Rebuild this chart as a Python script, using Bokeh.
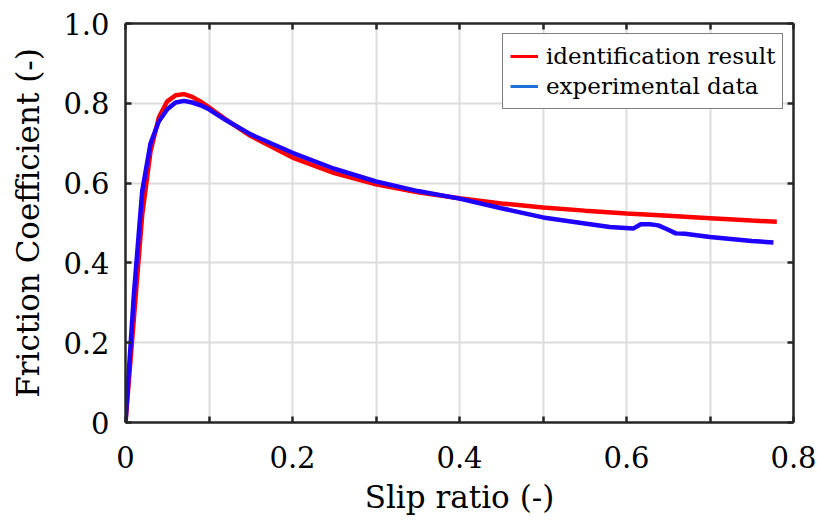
from bokeh.plotting import figure
from bokeh.models import (ColumnDataSource, Legend, LegendItem, LinearAxis, FixedTicker, Range1d)
from bokeh.embed import file_html
from bokeh.resources import INLINE

# identification result (red)
id_x = [0.0, 0.01, 0.02, 0.03, 0.04, 0.05, 0.06, 0.07, 0.08, 0.09, 0.10, 0.12, 0.15, 0.20, 0.25,
        0.30, 0.35, 0.40, 0.45, 0.50, 0.55, 0.60, 0.65, 0.70, 0.75, 0.78]
id_y = [0.0, 0.26, 0.52, 0.68, 0.765, 0.805, 0.82, 0.823, 0.816, 0.804, 0.79, 0.76, 0.718, 0.664, 0.625,
        0.597, 0.577, 0.562, 0.549, 0.539, 0.531, 0.524, 0.518, 0.512, 0.506, 0.503]

# experimental data (blue)
ex_x = [0.0, 0.01, 0.02, 0.03, 0.04, 0.05, 0.06, 0.07, 0.08, 0.09, 0.10, 0.12, 0.15, 0.20, 0.25,
        0.30, 0.35, 0.40, 0.45, 0.50, 0.55, 0.58, 0.608, 0.617, 0.628, 0.638, 0.648, 0.659, 0.67,
        0.70, 0.75, 0.776]
ex_y = [0.0, 0.32, 0.58, 0.70, 0.755, 0.785, 0.802, 0.806, 0.802, 0.795, 0.785, 0.758, 0.722, 0.676, 0.636,
        0.604, 0.58, 0.561, 0.537, 0.514, 0.499, 0.49, 0.486, 0.497, 0.497, 0.494, 0.485, 0.474, 0.473,
        0.465, 0.455, 0.451]

x_major = [0.0, 0.2, 0.4, 0.6, 0.8]
x_minor = [0.1, 0.3, 0.5, 0.7]
x_labels = {0.0: "0", 0.2: "0.2", 0.4: "0.4", 0.6: "0.6", 0.8: "0.8"}
y_major = [0.0, 0.2, 0.4, 0.6, 0.8, 1.0]
y_labels = {0.0: "0", 0.2: "0.2", 0.4: "0.4", 0.6: "0.6", 0.8: "0.8", 1.0: "1.0"}

FONT = "DejaVu Serif"
AXC = "#262626"

p = figure(width=817, height=522, output_backend="svg", toolbar_location=None,
           x_range=Range1d(0, 0.8), y_range=Range1d(0, 1.0),
           min_border_left=125, min_border_right=24, min_border_top=23, min_border_bottom=100)
p.outline_line_color = None
p.background_fill_color = "white"

def style_axis(ax):
    ax.major_tick_in = 6
    ax.major_tick_out = 0
    ax.minor_tick_in = 6
    ax.minor_tick_out = 0
    ax.axis_line_color = AXC
    ax.axis_line_width = 2.5
    ax.major_tick_line_color = AXC
    ax.major_tick_line_width = 2.5
    ax.minor_tick_line_color = AXC
    ax.minor_tick_line_width = 2.5

for ax in (p.xaxis[0], p.yaxis[0]):
    style_axis(ax)
    ax.major_label_text_font = FONT
    ax.major_label_text_font_size = "29px"
    ax.major_label_text_color = "black"
    ax.axis_label_text_font = FONT
    ax.axis_label_text_font_size = "31px"
    ax.axis_label_text_font_style = "normal"
    ax.axis_label_text_color = "black"

p.xaxis[0].ticker = FixedTicker(ticks=x_major, minor_ticks=x_minor)
p.xaxis[0].major_label_overrides = x_labels
p.xaxis[0].major_label_standoff = 23
p.xaxis[0].axis_label = "Slip ratio (-)"
p.xaxis[0].axis_label_standoff = 8
p.yaxis[0].ticker = FixedTicker(ticks=y_major)
p.yaxis[0].major_label_overrides = y_labels
p.yaxis[0].major_label_standoff = 16
p.yaxis[0].axis_label = "Friction Coefficient (-)"
p.yaxis[0].axis_label_standoff = 14

top = LinearAxis(ticker=FixedTicker(ticks=x_major, minor_ticks=x_minor),
                 major_label_text_color=None, major_label_standoff=0)
right = LinearAxis(ticker=FixedTicker(ticks=y_major),
                   major_label_text_color=None, major_label_standoff=0)
style_axis(top)
style_axis(right)
p.add_layout(top, "above")
p.add_layout(right, "right")

p.xgrid.ticker = FixedTicker(ticks=x_major, minor_ticks=x_minor)
p.ygrid.ticker = FixedTicker(ticks=y_major)
for g in (p.xgrid[0], p.ygrid[0]):
    g.grid_line_color = "#dcdcdc"
    g.grid_line_width = 2
p.xgrid[0].minor_grid_line_color = "#dcdcdc"
p.xgrid[0].minor_grid_line_width = 2

p.line(id_x, id_y, line_color="#ff0000", line_width=4.5)
p.line(ex_x, ex_y, line_color="#1f00ff", line_width=4.5)

# legend swatches (drawn outside the visible range)
dummy = ColumnDataSource(data=dict(x=[-1.0, -0.9], y=[-1.0, -1.0]))
r1 = p.line("x", "y", source=dummy, line_color="#ff0000", line_width=3)
r2 = p.line("x", "y", source=dummy, line_color="#1f6fd8", line_width=3)

legend = Legend(items=[LegendItem(label="identification result", renderers=[r1]),
                       LegendItem(label="experimental data", renderers=[r2])],
                location=(377, 313), label_text_font=FONT, label_text_font_size="23px",
                label_text_color="black",
                border_line_color="black", border_line_width=1.5, background_fill_alpha=1,
                glyph_width=28, label_standoff=8, spacing=0, padding=7, margin=0,
                label_height=30, glyph_height=30)
p.add_layout(legend, "center")

open("out.html", "w").write(file_html(p, INLINE))
